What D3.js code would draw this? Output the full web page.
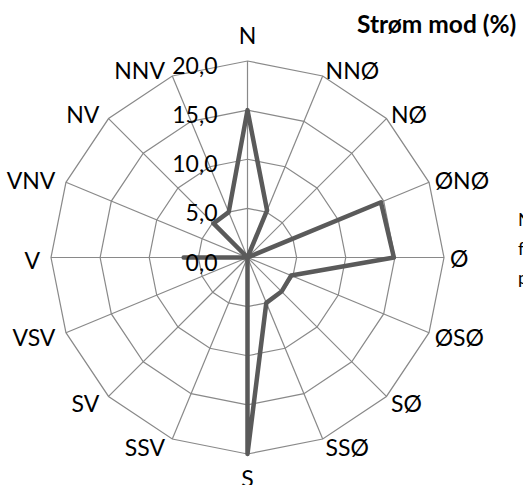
<!DOCTYPE html>
<html>
<head>
<meta charset="utf-8">
<script src="https://cdn.jsdelivr.net/npm/d3@7"></script>
<style>
  html, body { margin: 0; padding: 0; background: #fff; overflow: hidden; }
  svg { display: block; }
  text { font-family: Lato, "Open Sans", sans-serif; fill: #000; }
</style>
</head>
<body>
<svg id="chart" width="523" height="485"></svg>
<script>
// ---- data ----
const directions = ["N", "NNØ", "NØ", "ØNØ", "Ø", "ØSØ", "SØ", "SSØ", "S", "SSV", "SV", "VSV", "V", "VNV", "NV", "NNV"];
const values = [15.0, 5.2, 0.0, 14.7, 14.9, 4.8, 4.9, 5.0, 20.0, 0.0, 0.0, 0.0, 6.5, 0.0, 4.9, 5.0];
const tickValues = [0, 5, 10, 15, 20];
const tickLabels = ["0,0", "5,0", "10,0", "15,0", "20,0"];
const title = "Strøm mod (%)";
const sideText = ["Nordlig strøm", "fordelt i", "procent"];

// ---- layout ----
const svg = d3.select("#chart");
const cx = 247.5, cy = 257.5, R = 196.5;
const r = d3.scaleLinear().domain([0, 20]).range([0, R]);
const angle = d3.scaleLinear().domain([0, directions.length]).range([0, 2 * Math.PI]);

const g = svg.append("g").attr("transform", `translate(${cx},${cy})`);

// grid polygons
const gridLine = d3.lineRadial()
  .angle((d, i) => angle(i))
  .radius(d => r(d))
  .curve(d3.curveLinearClosed);

tickValues.filter(v => v > 0).forEach(v => {
  g.append("path")
    .attr("d", gridLine(directions.map(() => v)))
    .attr("fill", "none")
    .attr("stroke", "#898989")
    .attr("stroke-width", 1.2);
});

// spokes
directions.forEach((d, i) => {
  const a = angle(i);
  g.append("line")
    .attr("x1", 0).attr("y1", 0)
    .attr("x2", r(20) * Math.sin(a))
    .attr("y2", -r(20) * Math.cos(a))
    .attr("stroke", "#898989")
    .attr("stroke-width", 1.2);
});

// data line
const dataLine = d3.lineRadial()
  .angle((d, i) => angle(i))
  .radius(d => r(d))
  .curve(d3.curveLinearClosed);

g.append("path")
  .attr("d", dataLine(values))
  .attr("fill", "none")
  .attr("stroke", "#5a5a5a")
  .attr("stroke-width", 4.5)
  .attr("stroke-linejoin", "round");

// tick labels
tickValues.forEach((v, i) => {
  g.append("text")
    .attr("x", -30)
    .attr("y", -r(v) + 4)
    .attr("text-anchor", "end")
    .attr("dominant-baseline", "central")
    .attr("font-size", 23)
    .text(tickLabels[i]);
});

// category labels
directions.forEach((d, i) => {
  const a = angle(i);
  const s = Math.sin(a), c = Math.cos(a);
  const ex = r(20) * s, ey = -r(20) * c;
  let anchor, x, y;
  if (Math.abs(s) < 0.01) {
    anchor = "middle";
    x = ex;
    y = c > 0 ? ey - 26 : ey + 24;
  } else if (s > 0) {
    anchor = "start";
    x = ex + 1 + 5 * s;
    y = ey - c * 6 + (c < 0 ? 2 : 0);
  } else {
    anchor = "end";
    x = ex - (5 + 6 * Math.abs(s));
    y = ey - c * 6 + (c < 0 ? 2 : 0);
  }
  g.append("text")
    .attr("x", x).attr("y", y)
    .attr("text-anchor", anchor)
    .attr("dominant-baseline", "central")
    .attr("font-size", 23)
    .text(d);
});

// title
svg.append("text")
  .attr("x", 357).attr("y", 33)
  .attr("font-size", 24.5)
  .attr("font-weight", "bold")
  .text(title);

// side text (clipped by the frame)
sideText.forEach((t, i) => {
  svg.append("text")
    .attr("x", 518).attr("y", 226 + i * 29)
    .attr("font-size", 18)
    .attr("fill", "#222")
    .text(t);
});
</script>
</body>
</html>
